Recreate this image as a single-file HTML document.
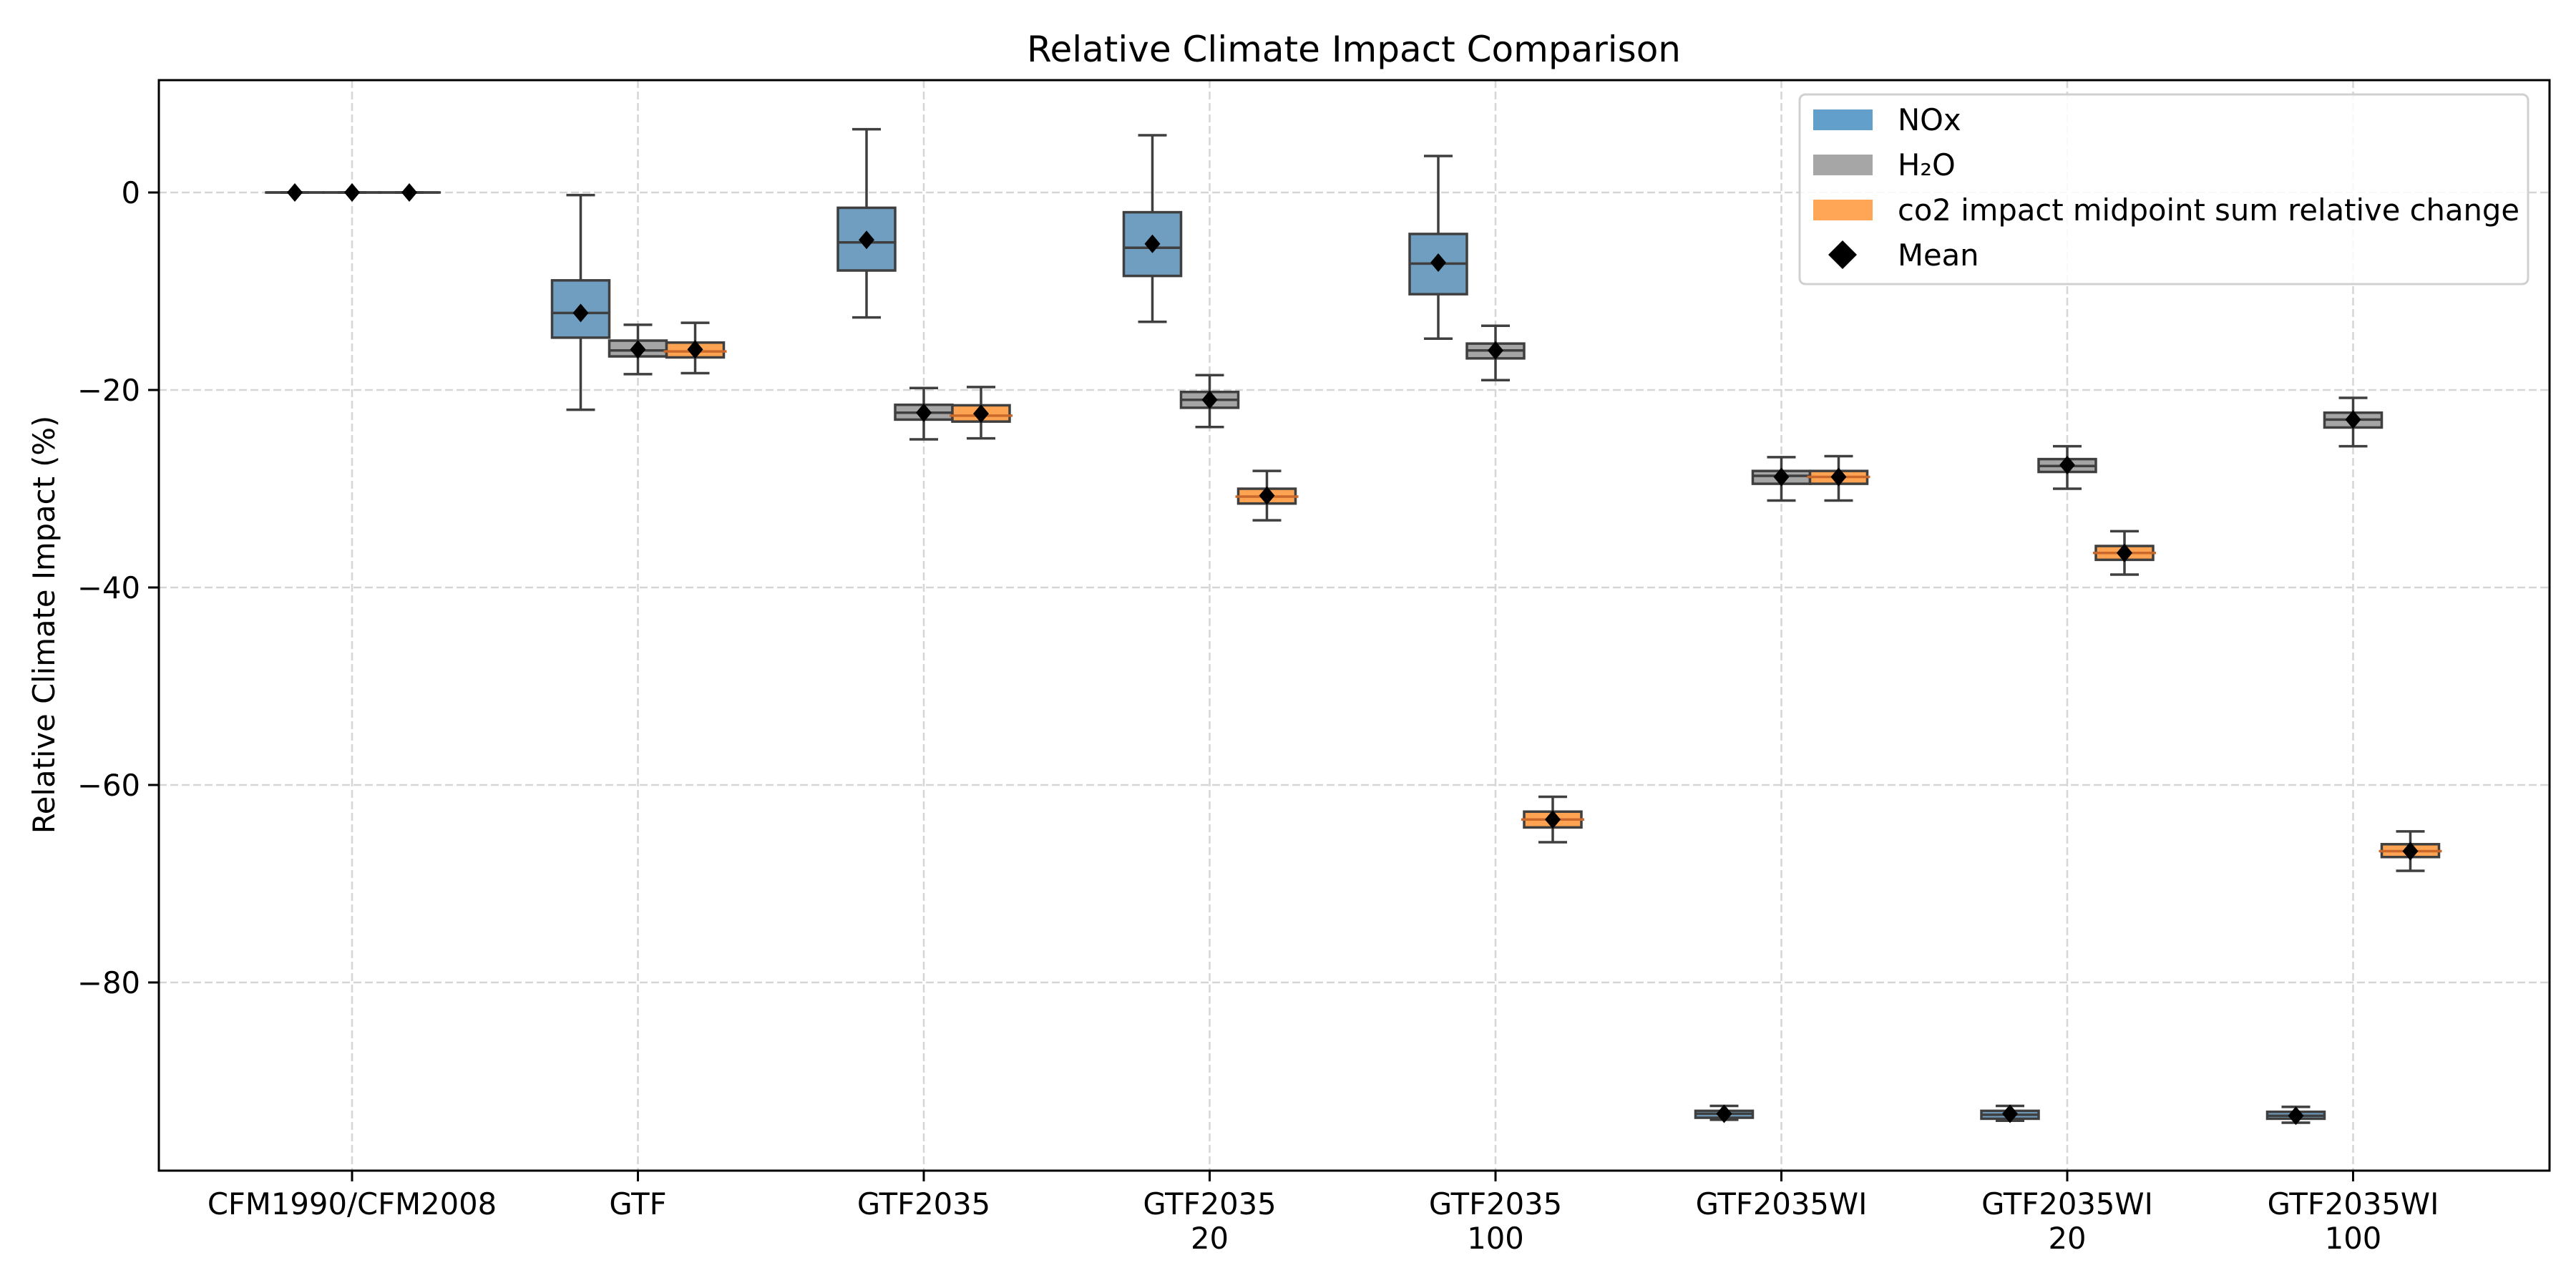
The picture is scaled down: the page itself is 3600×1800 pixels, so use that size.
<!DOCTYPE html>
<html><head><meta charset="utf-8"><style>
html,body{margin:0;padding:0;background:#fff}
svg{display:block}
text{font-family:"DejaVu Sans","Liberation Sans",sans-serif;fill:#000}
</style></head><body>
<svg id="chart" width="3600" height="1800" viewBox="0 0 3600 1800" xmlns="http://www.w3.org/2000/svg">
<rect x="0" y="0" width="3600" height="1800" fill="#fff"/>
<text x="1892" y="86" font-size="50" text-anchor="middle">Relative Climate Impact Comparison</text>
<text transform="translate(76,873) rotate(-90)" font-size="41.7" text-anchor="middle">Relative Climate Impact (%)</text>
<g id="grid"></g>
<g id="boxes"></g>
<g id="axes"></g>
<g id="legend"></g>
</svg>
<script>
const categories = [["CFM1990/CFM2008"],["GTF"],["GTF2035"],["GTF2035","20"],["GTF2035","100"],["GTF2035WI"],["GTF2035WI","20"],["GTF2035WI","100"]];
const yTicks = [0,-20,-40,-60,-80];
const seriesNames = ["NOx","H\u2082O","co2 impact midpoint sum relative change"];
// NOx
const noxLo   = [0,-22.0,-12.65,-13.1,-14.8,-93.9,-94.0,-94.2];
const noxQ1   = [0,-14.7,-7.9,-8.45,-10.3,-93.7,-93.8,-93.8];
const noxMed  = [0,-12.2,-5.05,-5.6,-7.2,-93.3,-93.4,-93.5];
const noxQ3   = [0,-8.9,-1.55,-2.0,-4.2,-93.0,-93.0,-93.1];
const noxHi   = [0,-0.26,6.4,5.8,3.7,-92.5,-92.5,-92.6];
const noxMean = [0,-12.2,-4.8,-5.2,-7.1,-93.3,-93.3,-93.5];
// H2O
const h2oLo   = [0,-18.4,-25.0,-23.75,-19.0,-31.2,-30.0,-25.7];
const h2oQ1   = [0,-16.6,-23.0,-21.8,-16.8,-29.5,-28.3,-23.8];
const h2oMed  = [0,-16.0,-22.3,-21.0,-16.0,-28.7,-27.7,-23.0];
const h2oQ3   = [0,-15.0,-21.5,-20.2,-15.3,-28.2,-27.0,-22.3];
const h2oHi   = [0,-13.4,-19.8,-18.5,-13.5,-26.8,-25.7,-20.8];
const h2oMean = [0,-15.9,-22.3,-21.0,-16.0,-28.8,-27.6,-23.0];
// CO2
const co2Lo   = [0,-18.3,-24.9,-33.2,-65.8,-31.2,-38.7,-68.7];
const co2Q1   = [0,-16.7,-23.2,-31.5,-64.3,-29.5,-37.2,-67.3];
const co2Med  = [0,-16.1,-22.6,-30.8,-63.5,-28.8,-36.5,-66.7];
const co2Q3   = [0,-15.2,-21.55,-30.0,-62.7,-28.2,-35.8,-66.0];
const co2Hi   = [0,-13.2,-19.7,-28.2,-61.2,-26.7,-34.3,-64.7];
const co2Mean = [0,-15.9,-22.4,-30.7,-63.5,-28.8,-36.5,-66.7];

const NS="http://www.w3.org/2000/svg";
const L=222,R=3563,T=112,B=1636;
const y0=269, pxPerUnit=13.8;
function ys(v){return y0 - v*pxPerUnit;}
function xs(i){return 492 + 399.5*i;}
const off=80, bw=80;
function mk(tag,attrs,parent){const e=document.createElementNS(NS,tag);for(const k in attrs)e.setAttribute(k,attrs[k]);parent.appendChild(e);return e;}
const grid=document.getElementById('grid'),boxes=document.getElementById('boxes'),axes=document.getElementById('axes'),legend=document.getElementById('legend');

yTicks.forEach(t=>{
  const g=mk('line',{x1:L,x2:R,y1:ys(t),y2:ys(t),stroke:'#d6d6d6','stroke-width':2.5,'stroke-dasharray':'11,5'},grid);
  
  
});
categories.forEach((c,i)=>{
  const g=mk('line',{x1:xs(i),x2:xs(i),y1:T,y2:B,stroke:'#d6d6d6','stroke-width':2.5,'stroke-dasharray':'11,5'},grid);
  
  
});

const series=[
 {lo:noxLo,q1:noxQ1,med:noxMed,q3:noxQ3,hi:noxHi,mean:noxMean,fill:'#6f9ec0',medc:'#3f3f3f',o:-off,name:'nox'},
 {lo:h2oLo,q1:h2oQ1,med:h2oMed,q3:h2oQ3,hi:h2oHi,mean:h2oMean,fill:'#a5a5a5',medc:'#3f3f3f',o:0,name:'h2o'},
 {lo:co2Lo,q1:co2Q1,med:co2Med,q3:co2Q3,hi:co2Hi,mean:co2Mean,fill:'#fea352',medc:'#c9682a',o:off,name:'co2'}
];
const ec='#3f3f3f', lw=3.5;
series.forEach(s=>{
  categories.forEach((c,i)=>{
    const cx=xs(i)+s.o;
    const hi=s.hi[i], lo=s.lo[i], q1=s.q1[i], q3=s.q3[i], md=s.med[i], mn=s.mean[i];
    const g=mk('g',{},boxes);
    
    
    mk('line',{x1:cx,x2:cx,y1:ys(hi),y2:ys(q3),stroke:ec,'stroke-width':lw},g);
    mk('line',{x1:cx,x2:cx,y1:ys(q1),y2:ys(lo),stroke:ec,'stroke-width':lw},g);
    mk('line',{x1:cx-bw/4,x2:cx+bw/4,y1:ys(hi),y2:ys(hi),stroke:ec,'stroke-width':lw},g);
    mk('line',{x1:cx-bw/4,x2:cx+bw/4,y1:ys(lo),y2:ys(lo),stroke:ec,'stroke-width':lw},g);
    const by=ys(q3),bh=Math.max(ys(q1)-ys(q3),0.01);
    mk('rect',{x:cx-bw/2,y:by,width:bw,height:bh,fill:s.fill,stroke:ec,'stroke-width':lw},g);
    const ext = s.name==='co2'?4:0;
    const mc = (q3===q1)?ec:s.medc;
    mk('line',{x1:cx-bw/2-ext,x2:cx+bw/2+ext,y1:ys(md),y2:ys(md),stroke:mc,'stroke-width':lw},g);
    const my=ys(mn);
    const m=mk('polygon',{points:`${cx},${my-13} ${cx+11},${my} ${cx},${my+13} ${cx-11},${my}`,fill:'#000'},g);
    
    
  });
});

mk('rect',{x:L,y:T,width:R-L,height:B-T,fill:'none',stroke:'#000','stroke-width':3},axes);
yTicks.forEach(t=>{
  mk('line',{x1:L-15,x2:L,y1:ys(t),y2:ys(t),stroke:'#000','stroke-width':3},axes);
  const tx=mk('text',{x:L-26,y:ys(t)+15,'font-size':41.7,'text-anchor':'end'},axes);
  tx.textContent=(t<0?'\u2212'+(-t):''+t);
  
  
});
categories.forEach((c,i)=>{
  mk('line',{x1:xs(i),x2:xs(i),y1:B,y2:B+15,stroke:'#000','stroke-width':3},axes);
  c.forEach((line,j)=>{
    const tx=mk('text',{x:xs(i),y:1697+j*48,'font-size':41.7,'text-anchor':'middle'},axes);
    tx.textContent=line;
    
    
  });
});

mk('rect',{x:2515,y:132,width:1018,height:265,rx:8,fill:'#fff','fill-opacity':0.85,stroke:'#d0d0d0','stroke-width':3},legend);
const legColors=['#62a0cb','#a6a6a6','#ffa556'];
seriesNames.forEach((n,k)=>{
  const yy=167+63*k;
  const r=mk('rect',{x:2534,y:yy-14,width:83,height:29,fill:legColors[k]},legend);
  
  
  const tx=mk('text',{x:2652,y:yy+15,'font-size':41.7},legend);
  tx.textContent=n;
  
  
});
{
  const yy=356, cx=2575;
  const m=mk('polygon',{points:`${cx},${yy-20} ${cx+20},${yy} ${cx},${yy+20} ${cx-20},${yy}`,fill:'#000'},legend);
  
  
  const tx=mk('text',{x:2652,y:yy+15,'font-size':41.7},legend);
  tx.textContent='Mean';
  
  
}
</script>
</body></html>
